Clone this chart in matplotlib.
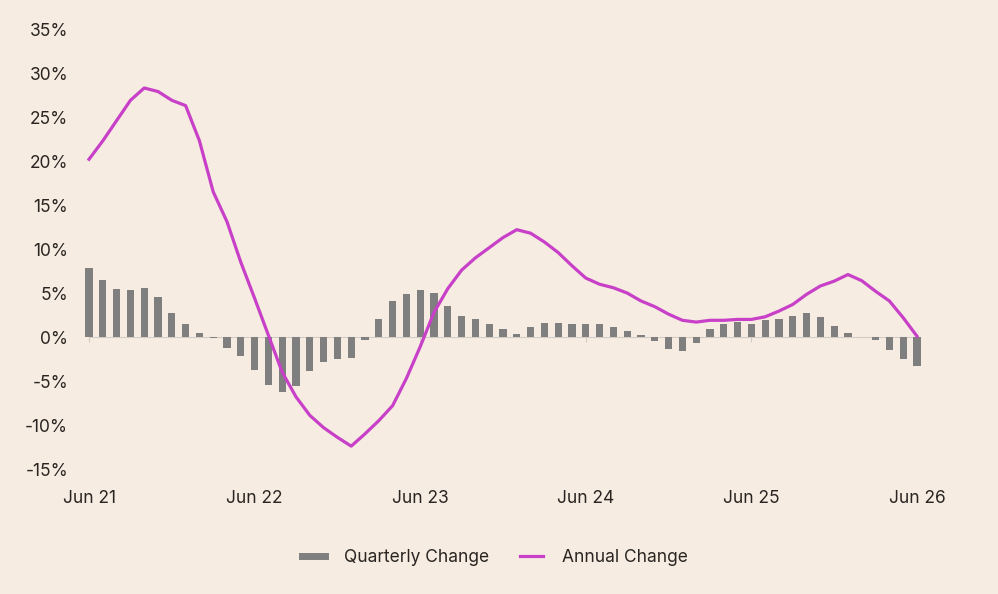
import matplotlib.pyplot as plt
from matplotlib.lines import Line2D
import numpy as np

plt.rcParams['font.family'] = ['Inter', 'DejaVu Sans']

# monthly, Jun 21 .. Jun 26
quarterly = [7.8, 6.5, 5.5, 5.4, 5.6, 4.5, 2.7, 1.5, 0.5, -0.1,
             -1.2, -2.1, -3.7, -5.5, -6.3, -5.6, -3.9, -2.8, -2.5, -2.35,
             -0.3, 2.0, 4.05, 4.9, 5.4, 5.0, 3.5, 2.4, 2.1, 1.5,
             0.9, 0.4, 1.1, 1.55, 1.55, 1.45, 1.45, 1.5, 1.1, 0.65,
             0.2, -0.5, -1.35, -1.6, -0.7, 0.9, 1.45, 1.75, 1.45, 1.9,
             2.0, 2.35, 2.7, 2.3, 1.2, 0.5, 0.0, -0.3, -1.5, -2.5,
             -3.3]
annual = [20.2, 22.3, 24.6, 26.9, 28.3, 27.9, 26.9, 26.3, 22.3, 16.5,
          13.1, 8.5, 4.4, 0.2, -4.0, -6.8, -8.9, -10.3, -11.4, -12.4,
          -11.0, -9.5, -7.8, -4.7, -1.1, 2.8, 5.5, 7.6, 9.0, 10.15,
          11.3, 12.2, 11.8, 10.8, 9.6, 8.1, 6.7, 6.0, 5.6, 5.0,
          4.1, 3.45, 2.6, 1.9, 1.7, 1.9, 1.9, 2.0, 2.0, 2.3,
          2.95, 3.7, 4.85, 5.8, 6.35, 7.1, 6.4, 5.2, 4.1, 2.2,
          0.1]
tick_labels = ['Jun 21', 'Jun 22', 'Jun 23', 'Jun 24', 'Jun 25', 'Jun 26']

bg = '#F6ECE1'
bar_col = '#7F7F7F'
line_col = '#C840C8'
txt = '#2A2522'
zero_col = '#D2CCC5'

x = np.arange(len(annual))
ticks = x[::12]

fig = plt.figure(figsize=(9.98, 5.94), dpi=100, facecolor=bg)
ax = fig.add_axes([0.0823, 0.2104, 0.8434, 0.7407])
ax.set_facecolor(bg)

ax.bar(x, quarterly, width=0.52, color=bar_col, zorder=2)
ax.plot(x, annual, color=line_col, lw=2.3, zorder=3)

ax.set_xlim(-0.5, 60.5)
ax.set_ylim(-15, 35)
ax.set_yticks(range(-15, 36, 5))
ax.set_yticklabels([f'{v}%' for v in range(-15, 36, 5)])
ax.tick_params(axis='y', length=0, labelsize=12.5, colors=txt, pad=10)

# zero axis with small ticks, labels on a separate bottom axis
for s in ['top', 'right', 'left']:
    ax.spines[s].set_visible(False)
ax.spines['bottom'].set_position(('data', 0))
ax.spines['bottom'].set_bounds(x[0], x[-1])
ax.spines['bottom'].set_color(zero_col)
ax.spines['bottom'].set_zorder(1)
ax.set_xticks(ticks)
ax.tick_params(axis='x', length=3.5, color=zero_col, labelbottom=False)

sec = ax.secondary_xaxis('bottom')
sec.set_xticks(ticks)
sec.set_xticklabels(tick_labels)
sec.tick_params(length=0, labelsize=12.5, colors=txt, pad=15)
sec.spines['bottom'].set_visible(False)

handles = [Line2D([], [], color=bar_col, lw=5),
           Line2D([], [], color=line_col, lw=2.3)]
fig.legend(handles, ['Quarterly Change', 'Annual Change'],
           loc='center', bbox_to_anchor=(0.496, 0.062), ncol=2,
           frameon=False, fontsize=12.5, handlelength=1.3,
           handletextpad=1.1, columnspacing=1.8, labelcolor=txt)

fig.savefig('out.png', dpi=100, facecolor=bg)
